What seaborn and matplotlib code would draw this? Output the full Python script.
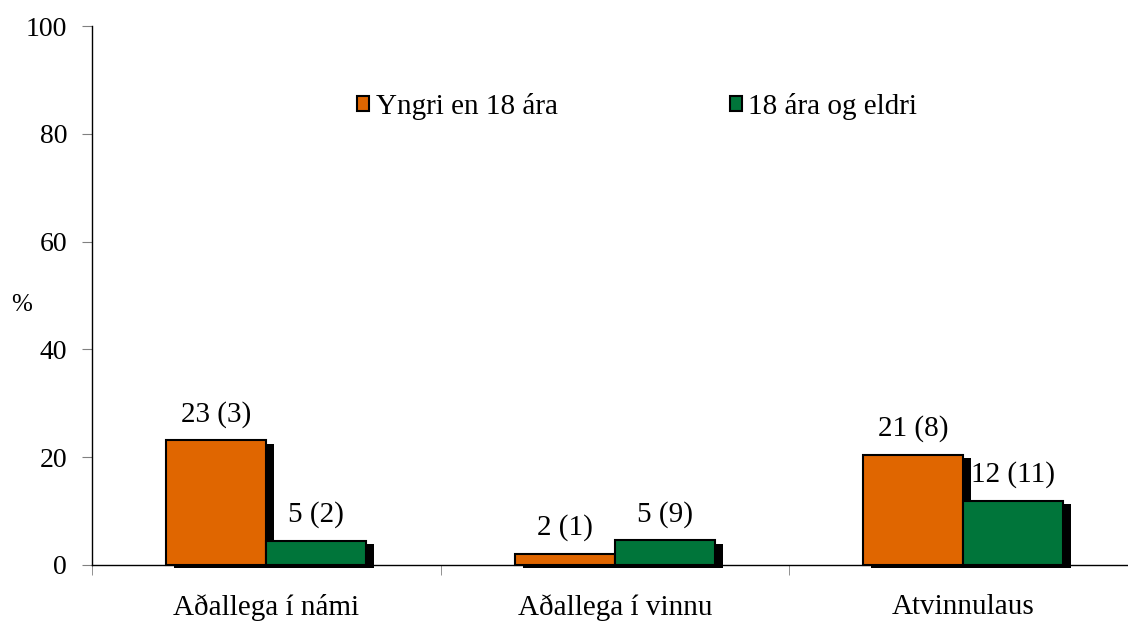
import matplotlib
matplotlib.use('Agg')
import matplotlib.pyplot as plt
import matplotlib.patheffects as pe
from matplotlib.patches import Patch
import pandas as pd
import seaborn as sns


# Gögn lesin af myndinni
categories = ['Aðallega í námi', 'Aðallega í vinnu', 'Atvinnulaus']
groups = ['Yngri en 18 ára', '18 ára og eldri']
young = [23.1, 2.1, 20.5]
older = [4.5, 4.6, 11.9]
young_labels = ['23 (3)', '2 (1)', '21 (8)']
older_labels = ['5 (2)', '5 (9)', '12 (11)']
yticks = [0, 20, 40, 60, 80, 100]
colors = ['#E06600', '#00753A']

df = pd.DataFrame({
    'Staða': categories * 2,
    'Hópur': [groups[0]] * len(categories) + [groups[1]] * len(categories),
    'Hlutfall': young + older,
})

sns.set_style('ticks')
plt.rcParams['font.family'] = ['Liberation Serif', 'DejaVu Serif']
plt.rcParams['text.color'] = 'black'

fig = plt.figure(figsize=(11.28, 6.21), dpi=100)
ax = fig.add_axes([92 / 1128, 1 - 565 / 621, (1137.5 - 92) / 1128, (565 - 26) / 621])

sns.barplot(data=df, x='Staða', y='Hlutfall', hue='Hópur', palette=colors,
            width=0.574, edgecolor='black', linewidth=1.5, saturation=1,
            legend=False, ax=ax)

# Svartur skuggi á súlunum
for patch in ax.patches:
    patch.set_path_effects([
        pe.SimplePatchShadow(offset=(5.8, -2.5), shadow_rgbFace='black', alpha=1),
        pe.Normal(),
    ])
    patch.set_clip_on(False)

ax.bar_label(ax.containers[0], labels=young_labels, padding=9, fontsize=21, color='black')
ax.bar_label(ax.containers[1], labels=older_labels, padding=9, fontsize=21, color='black')

ax.set_ylim(0, 100)
ax.set_xlim(-0.5, 2.5)
ax.set_yticks(yticks)
ax.set_xlabel('')
ax.set_ylabel('')
ax.set_xticks([-0.5, 0.5, 1.5, 2.5], minor=True)
ax.tick_params(axis='x', which='major', length=0, pad=21, labelsize=21, labelcolor='black')
ax.tick_params(axis='x', which='minor', length=7, color='gray', bottom=True)
ax.tick_params(axis='y', length=7, color='gray', labelsize=20, pad=11, labelcolor='black')
sns.despine(ax=ax)
for side in ['left', 'bottom']:
    ax.spines[side].set_color('black')
    ax.spines[side].set_linewidth(1)

fig.text(22 / 1128, 1 - 305 / 621, '%', fontsize=18, ha='center', va='center')

handles = [Patch(facecolor=c, edgecolor='black', linewidth=1.5, label=g)
           for c, g in zip(colors, groups)]
fig.legend(handles=handles, ncol=2, loc='center left',
           bbox_to_anchor=(357 / 1128, 1 - 106 / 621), frameon=False,
           fontsize=21, handlelength=0.42, handleheight=0.42,
           handletextpad=0.22, columnspacing=5.9,
           borderpad=0, borderaxespad=0)

fig.savefig('out.png', dpi=100)
